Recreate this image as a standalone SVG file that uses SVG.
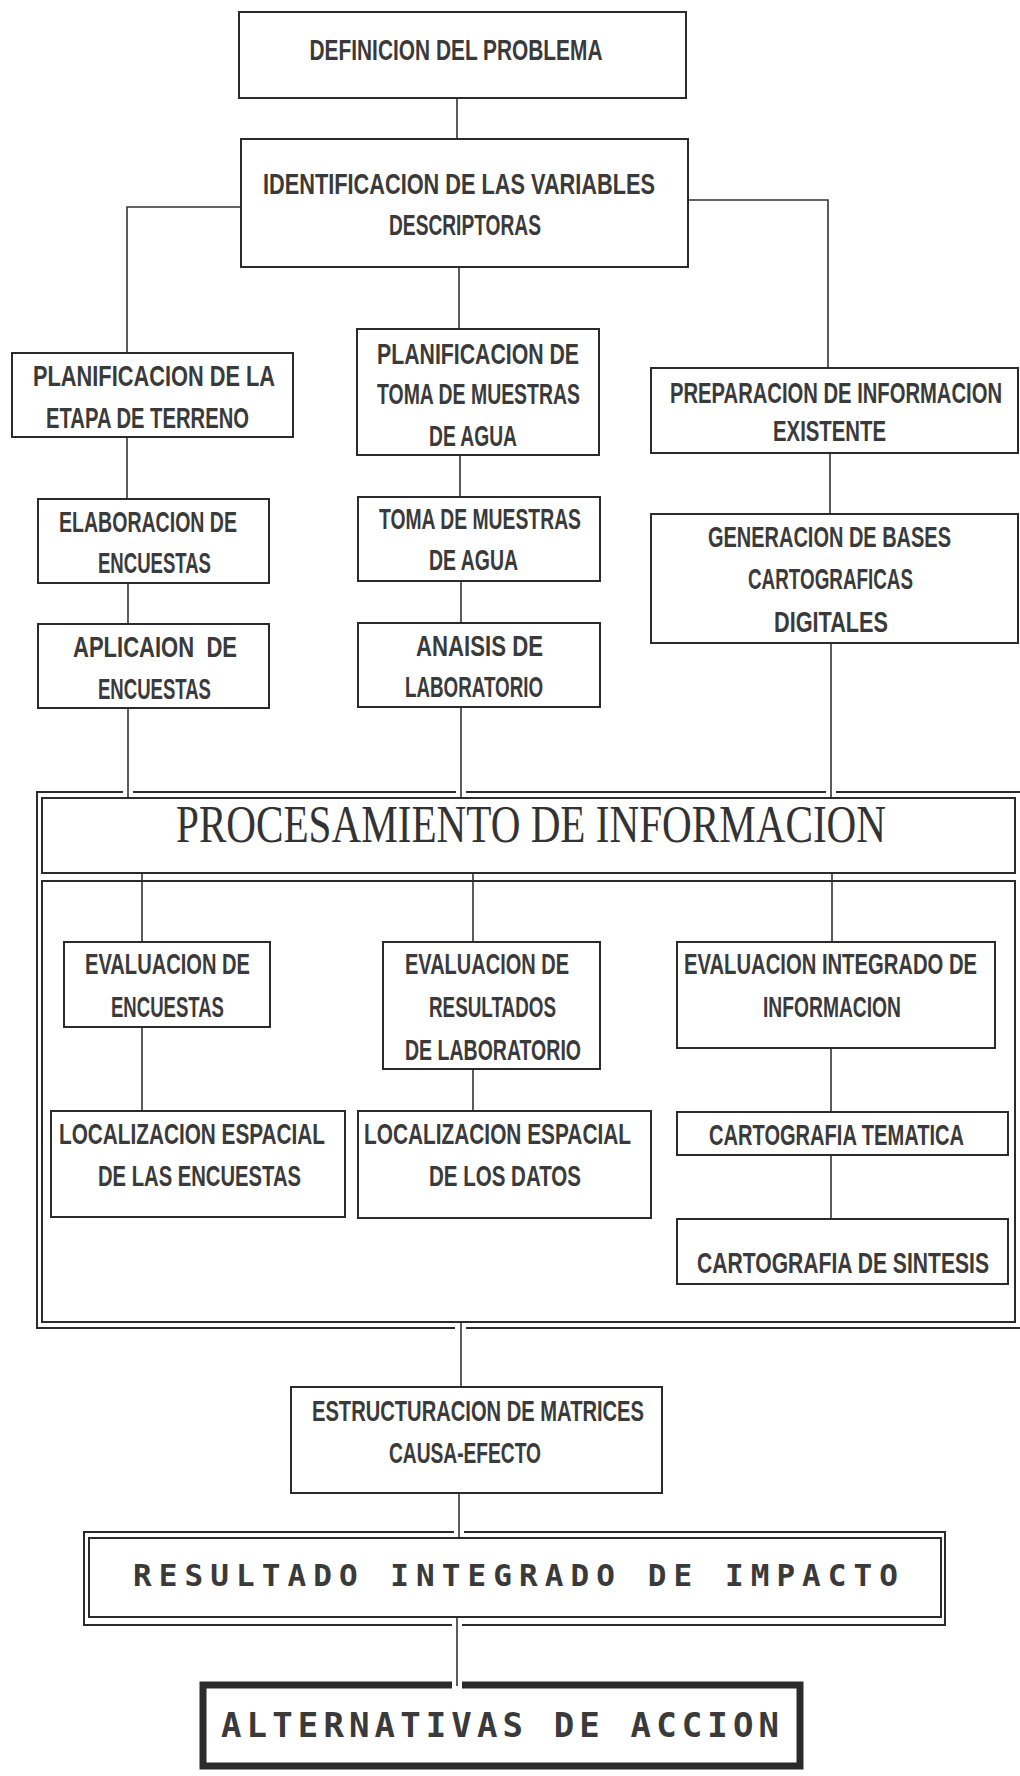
<svg xmlns="http://www.w3.org/2000/svg" width="1020" height="1776" viewBox="0 0 1020 1776">
<style>
.bg{fill:#ffffff}
.box{fill:none;stroke:#2b2b2b;stroke-width:2}
.frame{fill:none;stroke:#2b2b2b;stroke-width:2}
.thick{fill:none;stroke:#2b2b2b;stroke-width:7}
.con{fill:none;stroke:#333;stroke-width:1.6}
.t{font-family:"Liberation Sans","DejaVu Sans",sans-serif;font-weight:bold;font-size:30px;fill:#3a3a3a;text-anchor:middle}
.big{font-family:"Liberation Serif","DejaVu Serif",serif;font-size:52px;fill:#333;text-anchor:middle}
.mono{font-family:"DejaVu Sans Mono","Liberation Mono",monospace;font-weight:bold;fill:#3a3a3a;text-anchor:middle}
</style>
<rect class="bg" x="0" y="0" width="1020" height="1776"/>

<g id="connectors">
<path class="con" d="M457,98 V139"/>
<path class="con" d="M241,207 H127 V353"/>
<path class="con" d="M459,267 V329"/>
<path class="con" d="M688,200 H828 V368"/>
<path class="con" d="M127,437 V499"/>
<path class="con" d="M128,583 V624"/>
<path class="con" d="M128,708 V798"/>
<path class="con" d="M460,455 V497"/>
<path class="con" d="M461,581 V623"/>
<path class="con" d="M461,707 V798"/>
<path class="con" d="M830,453 V514"/>
<path class="con" d="M831,643 V798"/>
<path class="con" d="M142,873 V942"/>
<path class="con" d="M473,873 V942"/>
<path class="con" d="M832,873 V942"/>
<path class="con" d="M142,1027 V1111"/>
<path class="con" d="M473,1069 V1111"/>
<path class="con" d="M831,1048 V1112"/>
<path class="con" d="M831,1155 V1219"/>
<path class="con" d="M461,1322 V1387"/>
<path class="con" d="M459,1493 V1538"/>
<path class="con" d="M457,1617 V1686"/>
</g>

<g id="n1">
<rect class="box" x="239" y="12" width="447" height="86"/>
<text class="t" x="456" y="60" textLength="293" lengthAdjust="spacingAndGlyphs">DEFINICION DEL PROBLEMA</text>
</g>

<g id="n2">
<rect class="box" x="241" y="139" width="447" height="128"/>
<text class="t" x="459" y="194" textLength="392" lengthAdjust="spacingAndGlyphs">IDENTIFICACION DE LAS VARIABLES</text>
<text class="t" x="465" y="235" textLength="152" lengthAdjust="spacingAndGlyphs">DESCRIPTORAS</text>
</g>

<g id="n3">
<rect class="box" x="12" y="353" width="281" height="84"/>
<text class="t" x="154" y="386" textLength="242" lengthAdjust="spacingAndGlyphs">PLANIFICACION DE LA</text>
<text class="t" x="147.5" y="428" textLength="203" lengthAdjust="spacingAndGlyphs">ETAPA DE TERRENO</text>
</g>

<g id="n4">
<rect class="box" x="38" y="499" width="231" height="84"/>
<text class="t" x="148" y="532" textLength="178" lengthAdjust="spacingAndGlyphs">ELABORACION DE</text>
<text class="t" x="154.5" y="573" textLength="113" lengthAdjust="spacingAndGlyphs">ENCUESTAS</text>
</g>

<g id="n5">
<rect class="box" x="38" y="624" width="231" height="84"/>
<text class="t" x="155" y="657" textLength="164" lengthAdjust="spacingAndGlyphs" xml:space="preserve">APLICAION  DE</text>
<text class="t" x="154.5" y="699" textLength="113" lengthAdjust="spacingAndGlyphs">ENCUESTAS</text>
</g>

<g id="n6">
<rect class="box" x="357" y="329" width="242" height="126"/>
<text class="t" x="478" y="364" textLength="202" lengthAdjust="spacingAndGlyphs">PLANIFICACION DE</text>
<text class="t" x="478.5" y="404" textLength="203" lengthAdjust="spacingAndGlyphs">TOMA DE MUESTRAS</text>
<text class="t" x="473" y="446" textLength="88" lengthAdjust="spacingAndGlyphs">DE AGUA</text>
</g>

<g id="n7">
<rect class="box" x="358" y="497" width="242" height="84"/>
<text class="t" x="480" y="529" textLength="202" lengthAdjust="spacingAndGlyphs">TOMA DE MUESTRAS</text>
<text class="t" x="473.5" y="570" textLength="89" lengthAdjust="spacingAndGlyphs">DE AGUA</text>
</g>

<g id="n8">
<rect class="box" x="358" y="623" width="242" height="84"/>
<text class="t" x="479.5" y="656" textLength="127" lengthAdjust="spacingAndGlyphs">ANAISIS DE</text>
<text class="t" x="474" y="697" textLength="138" lengthAdjust="spacingAndGlyphs">LABORATORIO</text>
</g>

<g id="n9">
<rect class="box" x="651" y="368" width="367" height="85"/>
<text class="t" x="836" y="403" textLength="332" lengthAdjust="spacingAndGlyphs">PREPARACION DE INFORMACION</text>
<text class="t" x="829.5" y="441" textLength="113" lengthAdjust="spacingAndGlyphs">EXISTENTE</text>
</g>

<g id="n10">
<rect class="box" x="651" y="514" width="367" height="129"/>
<text class="t" x="829.5" y="547" textLength="243" lengthAdjust="spacingAndGlyphs">GENERACION DE BASES</text>
<text class="t" x="830.5" y="589" textLength="165" lengthAdjust="spacingAndGlyphs">CARTOGRAFICAS</text>
<text class="t" x="831" y="632" textLength="114" lengthAdjust="spacingAndGlyphs">DIGITALES</text>
</g>

<g id="n11">
<path class="frame" d="M1023,792 H836 M826,792 H466 M456,792 H133 M123,792 H37 V1328 H455 M466,1328 H1023"/>
<path class="frame" d="M1015,798 H42 V873 H1015 Z"/>
<path class="frame" d="M1015,881 H42 V1322 H1015 Z"/>
<text class="big" x="531" y="842" textLength="710" lengthAdjust="spacingAndGlyphs">PROCESAMIENTO DE INFORMACION</text>
</g>

<g id="n12">
<rect class="box" x="64" y="942" width="206" height="85"/>
<text class="t" x="167.5" y="974" textLength="165" lengthAdjust="spacingAndGlyphs">EVALUACION DE</text>
<text class="t" x="167.5" y="1017" textLength="113" lengthAdjust="spacingAndGlyphs">ENCUESTAS</text>
</g>

<g id="n13">
<rect class="box" x="383" y="942" width="217" height="127"/>
<text class="t" x="487" y="974" textLength="164" lengthAdjust="spacingAndGlyphs">EVALUACION DE</text>
<text class="t" x="492.5" y="1017" textLength="127" lengthAdjust="spacingAndGlyphs">RESULTADOS</text>
<text class="t" x="493" y="1060" textLength="176" lengthAdjust="spacingAndGlyphs">DE LABORATORIO</text>
</g>

<g id="n14">
<rect class="box" x="677" y="942" width="318" height="106"/>
<text class="t" x="830.5" y="974" textLength="293" lengthAdjust="spacingAndGlyphs">EVALUACION INTEGRADO DE</text>
<text class="t" x="832" y="1017" textLength="138" lengthAdjust="spacingAndGlyphs">INFORMACION</text>
</g>

<g id="n15">
<rect class="box" x="51" y="1111" width="294" height="106"/>
<text class="t" x="192" y="1144" textLength="266" lengthAdjust="spacingAndGlyphs">LOCALIZACION ESPACIAL</text>
<text class="t" x="199.5" y="1186" textLength="203" lengthAdjust="spacingAndGlyphs">DE LAS ENCUESTAS</text>
</g>

<g id="n16">
<rect class="box" x="358" y="1111" width="293" height="107"/>
<text class="t" x="497.5" y="1144" textLength="267" lengthAdjust="spacingAndGlyphs">LOCALIZACION ESPACIAL</text>
<text class="t" x="505" y="1186" textLength="152" lengthAdjust="spacingAndGlyphs">DE LOS DATOS</text>
</g>

<g id="n17">
<rect class="box" x="677" y="1112" width="331" height="43"/>
<text class="t" x="836.5" y="1145" textLength="255" lengthAdjust="spacingAndGlyphs">CARTOGRAFIA TEMATICA</text>
</g>

<g id="n18">
<rect class="box" x="677" y="1219" width="331" height="65"/>
<text class="t" x="843" y="1273" textLength="292" lengthAdjust="spacingAndGlyphs">CARTOGRAFIA DE SINTESIS</text>
</g>

<g id="n19">
<rect class="box" x="291" y="1387" width="371" height="106"/>
<text class="t" x="478" y="1421" textLength="332" lengthAdjust="spacingAndGlyphs">ESTRUCTURACION DE MATRICES</text>
<text class="t" x="465" y="1463" textLength="152" lengthAdjust="spacingAndGlyphs">CAUSA-EFECTO</text>
</g>

<g id="n20">
<path class="frame" d="M454,1532 H84 V1625 H452 M462,1625 H945 V1532 H464"/>
<rect class="box" x="89" y="1538" width="852" height="79"/>
<text class="mono" x="515.5" y="1586" font-size="31" textLength="765" lengthAdjust="spacing">RESULTADO INTEGRADO DE IMPACTO</text>
</g>

<g id="n21">
<path class="thick" d="M452,1685 H203 V1766 H800 V1685 H462"/>
<text class="mono" x="500" y="1737" font-size="34" textLength="558" lengthAdjust="spacing">ALTERNATIVAS DE ACCION</text>
</g>
</svg>
